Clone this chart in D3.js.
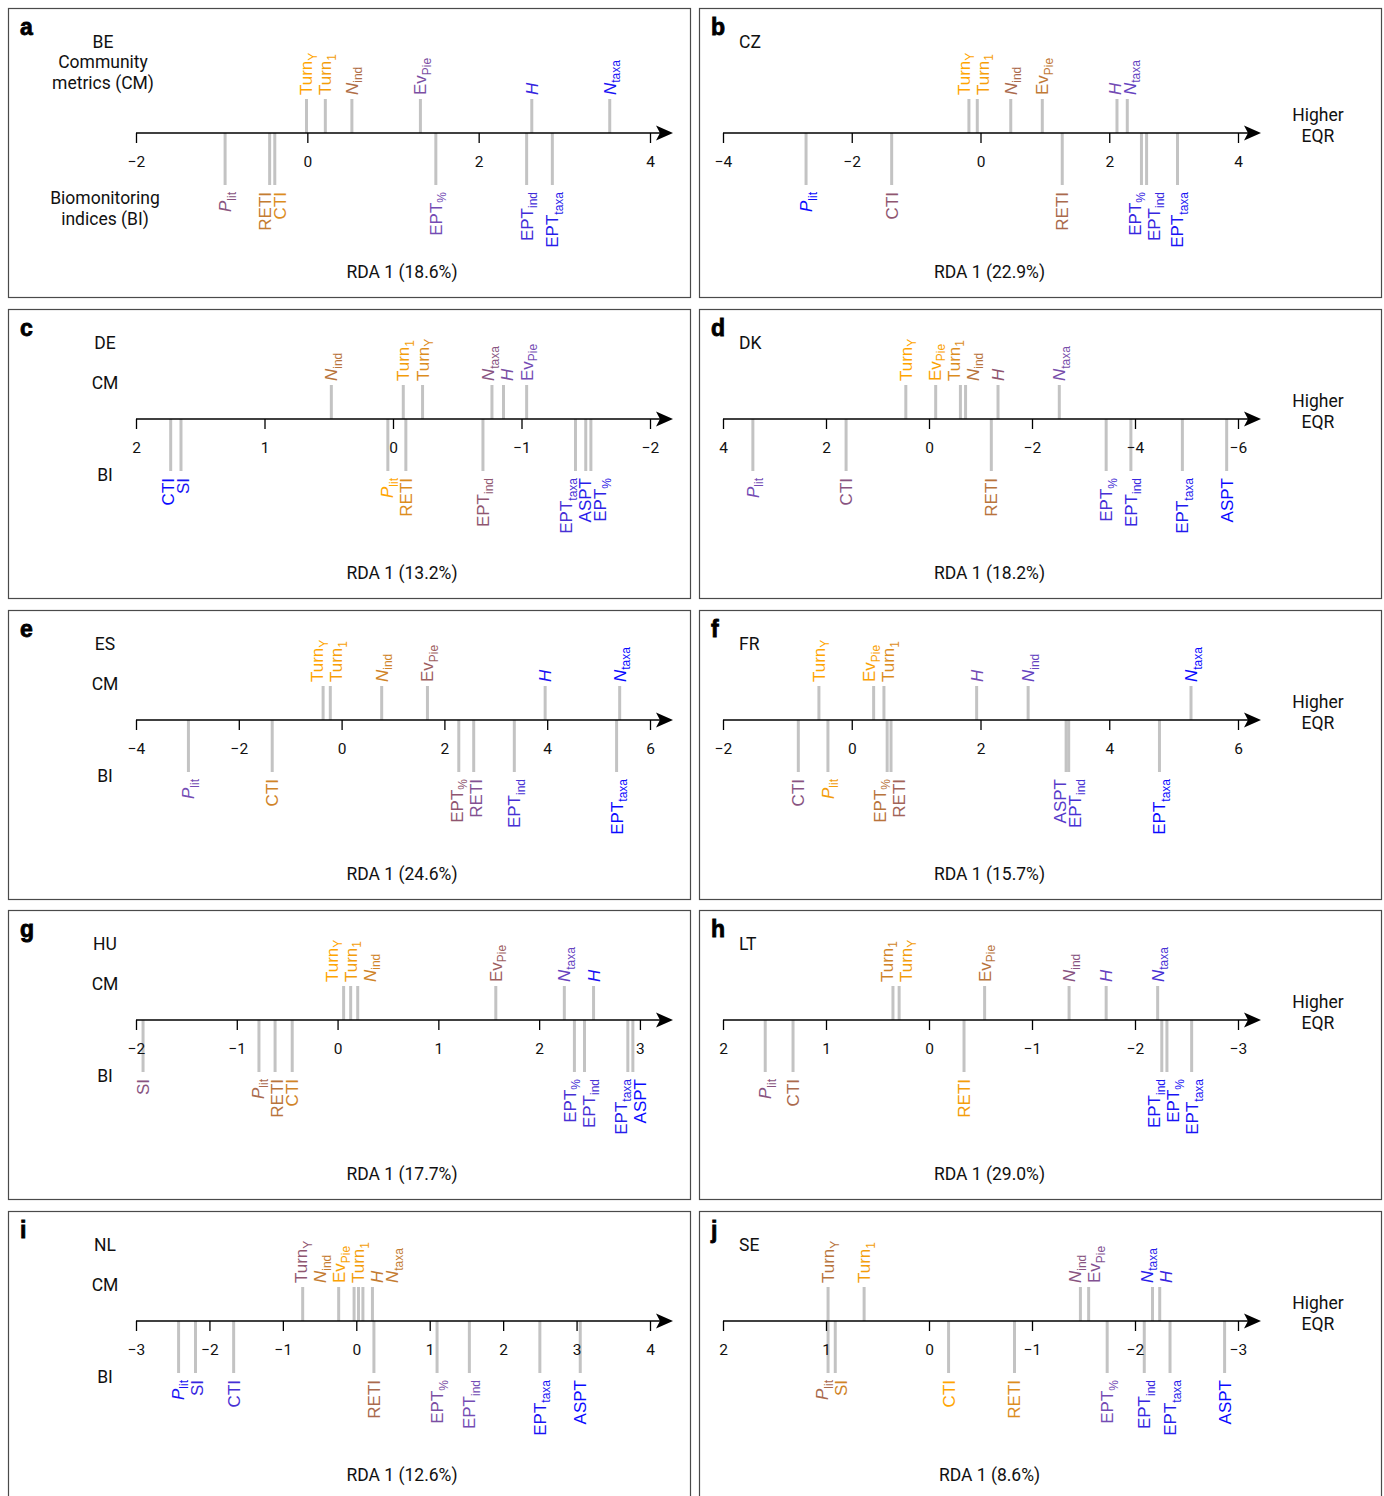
<!DOCTYPE html>
<html><head><meta charset="utf-8">
<script src="https://cdn.jsdelivr.net/npm/d3@7"></script>
<style>
body{margin:0;background:#fff;}
svg{display:block;}
</style></head><body>
<svg id="chart" width="1384" height="1496"></svg>
<script>
// ---------------- DATA ----------------
const countries = ["BE","CZ","DE","DK","ES","FR","HU","LT","NL","SE"];
const panelLetters = ["a","b","c","d","e","f","g","h","i","j"];
const rdaLabels = ["RDA 1 (18.6%)","RDA 1 (22.9%)","RDA 1 (13.2%)","RDA 1 (18.2%)","RDA 1 (24.6%)",
                   "RDA 1 (15.7%)","RDA 1 (17.7%)","RDA 1 (29.0%)","RDA 1 (12.6%)","RDA 1 (8.6%)"];
const axisDomains = [[-2,4],[-4,4],[2,-2],[4,-6],[-4,6],[-2,6],[-2,3.1],[2,-3],[-3,4],[2,-3]];
const axisTicks = [[-2,0,2,4],[-4,-2,0,2,4],[2,1,0,-1,-2],[4,2,0,-2,-4,-6],[-4,-2,0,2,4,6],
                   [-2,0,2,4,6],[-2,-1,0,1,2,3],[2,1,0,-1,-2,-3],[-3,-2,-1,0,1,2,3,4],[2,1,0,-1,-2,-3]];

// community metrics (CM), order: TurnY, Turn1, Nind, EvPie, H, Ntaxa
const cmMetrics = ["TurnY","Turn1","Nind","EvPie","H","Ntaxa"];
// biomonitoring indices (BI), order: Plit, SI, CTI, RETI, EPT%, EPTind, EPTtaxa, ASPT
const biIndices = ["Plit","SI","CTI","RETI","EPT%","EPTind","EPTtaxa","ASPT"];

const cmValuesBE = [-0.01, 0.21, 0.52, 1.32, 2.62, 3.53];
const cmShadeBE  = [0.0, 0.05, 0.33, 0.6, 0.85, 0.95];
const biValuesBE = [-0.96, null, -0.38, -0.44, 1.50, 2.56, 2.86, null];
const biShadeBE  = [0.5, null, 0.15, 0.25, 0.65, 0.82, 0.9, null];

const cmValuesCZ = [-0.18, -0.05, 0.47, 0.96, 2.12, 2.28];
const cmShadeCZ  = [0.0, 0.04, 0.35, 0.27, 0.65, 0.7];
const biValuesCZ = [-2.71, null, -1.38, 1.27, 2.50, 2.58, 3.06, null];
const biShadeCZ  = [1.0, null, 0.45, 0.35, 0.85, 0.85, 0.95, null];

const cmValuesDE = [-0.23, -0.08, 0.48, -1.04, -0.86, -0.77];
const cmShadeDE  = [0.15, 0.05, 0.3, 0.65, 0.6, 0.5];
const biValuesDE = [0.04, 1.65, 1.73, -0.10, -1.54, -0.70, -1.42, -1.50];
const biShadeDE  = [0.0, 0.95, 1.0, 0.15, 0.88, 0.45, 0.8, 0.9];

const cmValuesDK = [0.45, -0.61, -0.71, -0.13, -1.34, -2.53];
const cmShadeDK  = [0.0, 0.15, 0.3, 0.02, 0.45, 0.62];
const biValuesDK = [3.42, null, 1.61, -1.21, -3.44, -3.92, -4.92, -5.78];
const biShadeDK  = [0.65, null, 0.5, 0.3, 0.8, 0.85, 0.92, 1.0];

const cmValuesES = [-0.36, -0.22, 0.78, 1.67, 3.96, 5.41];
const cmShadeES  = [0.0, 0.03, 0.2, 0.4, 0.95, 1.0];
const biValuesES = [-2.98, null, -1.35, 2.57, 2.28, 3.36, 5.35, null];
const biShadeES  = [0.65, null, 0.2, 0.55, 0.45, 0.8, 1.0, null];

const cmValuesFR = [-0.51, 0.50, 2.74, 0.34, 1.94, 5.27];
const cmShadeFR  = [0.0, 0.15, 0.7, 0.02, 0.65, 1.0];
const biValuesFR = [-0.37, null, -0.83, 0.61, 0.55, 3.37, 4.78, 3.33];
const biShadeFR  = [0.05, null, 0.5, 0.38, 0.3, 0.8, 1.0, 0.75];

const cmValuesHU = [0.06, 0.13, 0.20, 1.57, 2.54, 2.25];
const cmShadeHU  = [0.0, 0.05, 0.2, 0.4, 0.95, 0.7];
const biValuesHU = [-0.78, -1.93, -0.45, -0.62, 2.35, 2.45, 2.88, 2.93];
const biShadeHU  = [0.35, 0.5, 0.2, 0.3, 0.8, 0.8, 0.9, 1.0];

const cmValuesLT = [0.29, 0.35, -1.36, -0.54, -1.72, -2.22];
const cmShadeLT  = [0.05, 0.2, 0.5, 0.3, 0.7, 0.8];
const biValuesLT = [1.59, null, 1.32, -0.34, -2.31, -2.26, -2.55, null];
const biShadeLT  = [0.5, null, 0.35, 0.05, 0.95, 0.95, 0.95, null];

const cmValuesNL = [-0.73, 0.03, -0.24, -0.03, 0.09, 0.22];
const cmShadeNL  = [0.45, 0.05, 0.25, 0.02, 0.25, 0.25];
const biValuesNL = [-2.42, -2.19, -1.67, 0.24, 1.10, 1.54, 2.50, 3.05];
const biShadeNL  = [0.95, 0.85, 0.8, 0.35, 0.6, 0.65, 0.95, 1.0];

const cmValuesSE = [0.98, 0.63, -1.47, -1.55, -2.24, -2.17];
const cmShadeSE  = [0.3, 0.05, 0.5, 0.55, 0.85, 0.9];
const biValuesSE = [0.98, 0.91, -0.19, -0.83, -1.73, -2.09, -2.34, -2.87];
const biShadeSE  = [0.35, 0.2, 0.0, 0.15, 0.65, 0.85, 0.9, 1.0];

// ---------------- TABLES ----------------
const cmValues = [cmValuesBE,cmValuesCZ,cmValuesDE,cmValuesDK,cmValuesES,cmValuesFR,cmValuesHU,cmValuesLT,cmValuesNL,cmValuesSE];
const cmShades = [cmShadeBE,cmShadeCZ,cmShadeDE,cmShadeDK,cmShadeES,cmShadeFR,cmShadeHU,cmShadeLT,cmShadeNL,cmShadeSE];
const biValues = [biValuesBE,biValuesCZ,biValuesDE,biValuesDK,biValuesES,biValuesFR,biValuesHU,biValuesLT,biValuesNL,biValuesSE];
const biShades = [biShadeBE,biShadeCZ,biShadeDE,biShadeDK,biShadeES,biShadeFR,biShadeHU,biShadeLT,biShadeNL,biShadeSE];

// label typography: [main, subscript, italic]
const labelParts = {
  TurnY:["Turn","Y",false], Turn1:["Turn","1",false], Nind:["N","ind",true], EvPie:["Ev","Pie",false],
  H:["H","",true], Ntaxa:["N","taxa",true], Plit:["P","lit",true], SI:["SI","",false], CTI:["CTI","",false],
  RETI:["RETI","",false], "EPT%":["EPT","%",false], EPTind:["EPT","ind",false], EPTtaxa:["EPT","taxa",false],
  ASPT:["ASPT","",false]
};

// ---------------- DRAW ----------------
const svg = d3.select("#chart");
const color = d3.scaleLinear().domain([0,0.3,0.45,0.65,1])
  .range(["#ffa500","#b8743c","#8f5670","#744cb4","#0a0aff"]);
const LBL_FONT = "'Liberation Sans', Arial, sans-serif";
const TXT_FONT = "Roboto, 'Liberation Sans', sans-serif";
const panelW = 682, panelH = 289;
const colX = [8, 699];
const rowY = [8, 309, 610, 910, 1211];

function repel(ps, gaps) {
  const q = ps.slice();
  for (let it = 0; it < 500; it++) {
    let moved = false;
    for (let i = 0; i < q.length - 1; i++) {
      const d = q[i+1] - q[i];
      if (d < gaps[i] - 1e-6) { const s = (gaps[i] - d) / 2; q[i] -= s; q[i+1] += s; moved = true; }
    }
    if (!moved) break;
  }
  return q;
}

function addLabel(sel, key, px, py, anchor, fill) {
  const [main, sub, ital] = labelParts[key];
  const t = sel.append("text")
    .attr("transform", `translate(${px},${py}) rotate(-90)`)
    .attr("text-anchor", anchor).attr("fill", fill)
    .attr("font-family", LBL_FONT).attr("font-size", 17);
  t.append("tspan").attr("dy", 6).attr("font-style", ital ? "italic" : "normal").text(main);
  if (sub) t.append("tspan").attr("dy", 4.5).attr("font-size", 12).attr("font-style", "normal").text(sub);
}

function drawGroup(g, x, ay, names, vals, shades, above) {
  const items = [];
  names.forEach((n, j) => { if (vals[j] !== null) items.push({n, v: vals[j], s: shades[j], px: x(vals[j])}); });
  items.sort((a, b) => a.px - b.px);
  items.forEach(d => {
    g.append("line").attr("x1", d.px).attr("x2", d.px)
      .attr("y1", ay).attr("y2", above ? ay - 34 : ay + 52)
      .attr("stroke", "#c3c3c3").attr("stroke-width", 3);
  });
  const gaps = items.slice(0, -1).map(d => 15 + (labelParts[d.n][1] ? 4 : 0));
  const q = repel(items.map(d => d.px), gaps);
  items.forEach((d, k) => {
    addLabel(g, d.n, q[k], above ? ay - 38 : ay + 59, above ? "start" : "end", color(d.s));
  });
}

const tickFmt = d3.format("d");

countries.forEach((c, i) => {
  const row = Math.floor(i / 2), col = i % 2;
  const x0 = colX[col], y0 = rowY[row];
  const ay = row === 0 ? 125 : 110;
  const range = col === 0 ? [128, 642] : [24, 539];
  const g = svg.append("g").attr("transform", `translate(${x0},${y0})`);

  g.append("rect").attr("x", 0.5).attr("y", 0.5).attr("width", panelW).attr("height", panelH)
    .attr("fill", "none").attr("stroke", "#4a4a4a").attr("stroke-width", 1.2);

  const x = d3.scaleLinear().domain(axisDomains[i]).range(range);

  drawGroup(g, x, ay, cmMetrics, cmValues[i], cmShades[i], true);
  drawGroup(g, x, ay, biIndices, biValues[i], biShades[i], false);

  const axisG = g.append("g").attr("transform", `translate(0,${ay})`)
    .call(d3.axisBottom(x).tickValues(axisTicks[i]).tickFormat(tickFmt)
      .tickSize(10).tickPadding(13).tickSizeOuter(0));
  axisG.select(".domain").remove();
  axisG.selectAll(".tick line").attr("stroke", "#000").attr("stroke-width", 1.3);
  axisG.selectAll(".tick text").attr("font-family", TXT_FONT).attr("font-size", 15.5).attr("fill", "#111");

  g.append("line").attr("x1", range[0]).attr("x2", range[1] + 14).attr("y1", ay).attr("y2", ay)
    .attr("stroke", "#000").attr("stroke-width", 1.6);
  const R = range[1];
  g.append("path")
    .attr("d", `M${R+23},${ay} L${R+6},${ay-7.5} L${R+10},${ay} L${R+6},${ay+7.5} Z`)
    .attr("fill", "#000");

  // panel letter
  g.append("text").attr("x", 12).attr("y", 27).attr("font-family", LBL_FONT)
    .attr("font-weight", 900).attr("font-size", 23).attr("fill", "#000")
    .attr("stroke", "#000").attr("stroke-width", 0.8).text(panelLetters[i]);

  const txt = (tx, ty, s, anchor) => g.append("text").attr("x", tx).attr("y", ty).attr("dy", "0.35em")
    .attr("text-anchor", anchor || "middle").attr("font-family", TXT_FONT).attr("font-size", 17.5)
    .attr("fill", "#111").text(s);

  if (col === 0) {
    if (row === 0) {
      txt(95, 34, c);
      txt(95, 54, "Community");
      txt(95, 75, "metrics (CM)");
      txt(97, ay + 65, "Biomonitoring");
      txt(97, ay + 86, "indices (BI)");
    } else {
      txt(97, 33.5, c);
      txt(97, ay - 36, "CM");
      txt(97, ay + 56, "BI");
    }
  } else {
    txt(40, 33.5, c, "start");
    txt(619, ay - 18, "Higher");
    txt(619, ay + 3, "EQR");
  }
  txt((range[0] + range[1]) / 2 + 9, 264, rdaLabels[i]);
});
</script>
</body></html>
